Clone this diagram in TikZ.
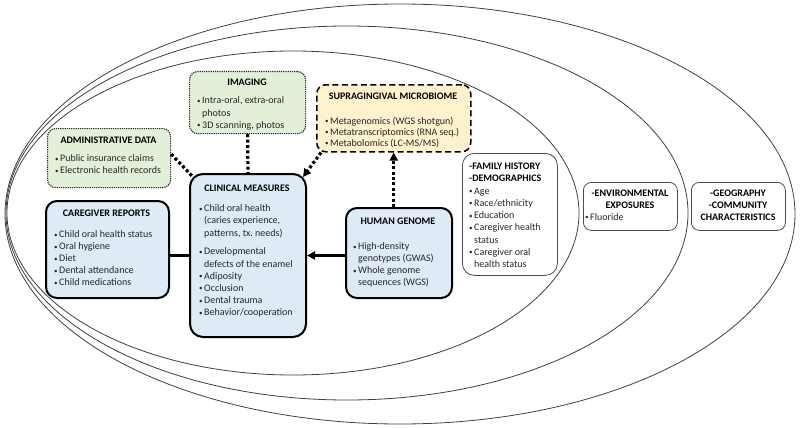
\documentclass[tikz,border=0pt]{standalone}
\usepackage{fontspec}
\setmainfont{Carlito}
\usetikzlibrary{arrows.meta,calc}
\definecolor{bluef}{RGB}{222,235,247}
\definecolor{greenf}{RGB}{226,240,217}
\definecolor{yellowf}{RGB}{255,242,204}
\definecolor{txtc}{RGB}{38,38,38}
\definecolor{ellc}{RGB}{64,64,64}
\newcommand\bl{\makebox[5pt][l]{\raisebox{0.6pt}{\scriptsize\textbullet}}}
\newcommand\ind{\hspace*{5pt}}
\newcommand\fs{\rule{0pt}{8.5pt}}
\tikzset{
 solidbox/.style={draw=black, line width=2pt, fill=bluef, rounded corners=11pt, anchor=north west, inner sep=0pt},
 dotbox/.style={draw=black!85, line width=1.2pt, densely dotted, fill=greenf, rounded corners=8pt, anchor=north west, inner sep=0pt},
 dashbox/.style={draw=black, line width=1.5pt, dash pattern=on 6pt off 3.5pt, fill=yellowf, rounded corners=9pt, anchor=north west, inner sep=0pt},
 thinbox/.style={draw=black!70, line width=0.8pt, fill=white, rounded corners=10pt, anchor=north west, inner sep=0pt},
 ttl/.style={font=\fontsize{10}{12}\selectfont\bfseries, text=black, inner sep=0pt, anchor=base},
 lst/.style={font=\fontsize{10}{12.2}\selectfont, text=txtc, align=left, inner sep=0pt, anchor=north west},
 dotlink/.style={line width=3.2pt, dash pattern=on 3pt off 2.4pt, black},
 solidlink/.style={line width=3pt, black},
 arr/.style={-{Triangle[length=8pt,width=8pt]}},
 ringline/.style={draw=ellc, line width=0.8pt}
}
\begin{document}
\begin{tikzpicture}[x=1pt,y=-1pt]
\fill[white] (0,0) rectangle (800,428);
\useasboundingbox (0,0) rectangle (800,428);
% rings
\draw[ringline] (400,214) ellipse [x radius=395, y radius=210];
\draw[ringline] (347,213) ellipse [x radius=341, y radius=187];
\draw[ringline] (293,213) ellipse [x radius=286, y radius=162];

% administrative data
\node[dotbox, minimum width=123pt, minimum height=59pt] (adm) at (47,128) {};
\node[ttl] (admt) at (108.5,143.5) {ADMINISTRATIVE DATA};
\node[lst] (adml) at (55,153) {\fs\bl Public insurance claims\\\bl Electronic health records};

% imaging
\node[dotbox, minimum width=116pt, minimum height=62pt] (im) at (189,71) {};
\node[ttl] (imt) at (247,85.5) {IMAGING};
\node[lst, font=\fontsize{10}{12.4}\selectfont] (iml) at (197,95) {\fs\bl Intra-oral, extra-oral\\\ind photos\\\bl 3D scanning, photos};

% microbiome
\node[dashbox, minimum width=154pt, minimum height=67pt] (mb) at (316,84) {};
\node[ttl] (mbt) at (393,99.5) {SUPRAGINGIVAL MICROBIOME};
\node[lst, font=\fontsize{10}{11}\selectfont] (mbl) at (325,115.7) {\fs\bl Metagenomics (WGS shotgun)\\\bl Metatranscriptomics (RNA seq.)\\\bl Metabolomics (LC-MS/MS)};

% clinical measures
\node[solidbox, minimum width=116pt, minimum height=163pt, rounded corners=13pt] (cm) at (189,173) {};
\node[ttl] (cmt) at (247,191.5) {CLINICAL MEASURES};
\node[lst] (cml) at (199,203) {\fs\bl Child oral health\\\ind(caries experience,\\\ind patterns, tx.\ needs)\\[6.5pt]\bl Developmental\\\ind defects of the enamel\\\bl Adiposity\\\bl Occlusion\\\bl Dental trauma\\\bl Behavior/cooperation};

% caregiver reports
\node[solidbox, minimum width=123pt, minimum height=97pt] (cg) at (45,200) {};
\node[ttl] (cgt) at (106.5,216.5) {CAREGIVER REPORTS};
\node[lst, font=\fontsize{10}{12}\selectfont] (cgl) at (54,229) {\fs\bl Child oral health status\\\bl Oral hygiene\\\bl Diet\\\bl Dental attendance\\\bl Child medications};

% human genome
\node[solidbox, minimum width=106pt, minimum height=90pt] (hg) at (345,207) {};
\node[ttl] (hgt) at (398,224.5) {HUMAN GENOME};
\node[lst, font=\fontsize{10}{12}\selectfont] (hgl) at (353,241) {\fs\bl High-density\\\ind genotypes (GWAS)\\\bl Whole genome\\\ind sequences (WGS)};

% family history / demographics
\node[thinbox, minimum width=95pt, minimum height=122pt, rounded corners=12pt] (fh) at (462,153) {};
\node[lst, font=\fontsize{10}{12.25}\selectfont] (fhl) at (469,161) {\fs{\bfseries\color{black}-FAMILY HISTORY}\\{\bfseries\color{black}-DEMOGRAPHICS}\\\bl Age\\\bl Race/ethnicity\\\bl Education\\\bl Caregiver health\\\ind status\\\bl Caregiver oral\\\ind health status};

% environmental exposures
\node[thinbox, minimum width=94pt, minimum height=48pt, rounded corners=8pt] (env) at (583,182) {};
\node[ttl] (envt1) at (630,196.5) {-ENVIRONMENTAL};
\node[ttl] (envt2) at (630,208.5) {EXPOSURES};
\node[lst, anchor=base west] (envl) at (585,220.5) {\bl Fluoride};

% geography / community
\node[thinbox, minimum width=94pt, minimum height=48pt, rounded corners=8pt] (geo) at (691,182) {};
\node[ttl] (geot1) at (738,196.5) {-GEOGRAPHY};
\node[ttl] (geot2) at (738,208.5) {-COMMUNITY};
\node[ttl] (geot3) at (738,220.5) {CHARACTERISTICS};

% connectors
\draw[solidlink] (cg.east |- cm.west) -- (cm.west);
\draw[solidlink, arr] (hg.west |- cm.east) -- (cm.east);
\draw[dotlink] ($(adm.east)+(0,-4)$) -- ($(cm.north west)+(5,5)$);
\draw[dotlink] (im.south) -- (cm.north);
\draw[dotlink, arr] ($(mb.south west)+(5,0)$) -- ($(cm.north east)+(-4,4)$);
\draw[dotlink, arr] (mb.south |- hg.north) -- (mb.south);
\end{tikzpicture}
\end{document}
